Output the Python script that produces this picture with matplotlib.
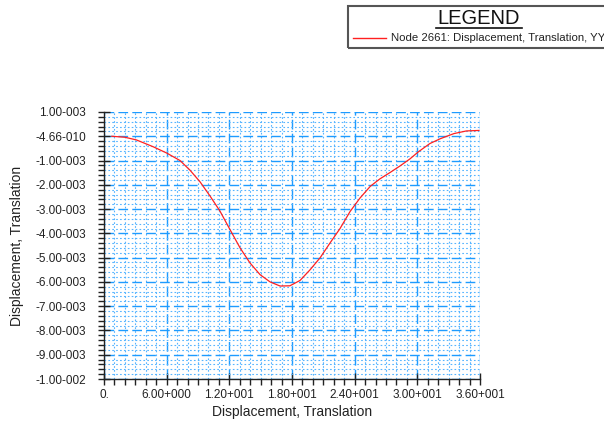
import matplotlib
matplotlib.use('Agg')
import matplotlib.pyplot as plt
from matplotlib.ticker import FixedLocator, MultipleLocator
from matplotlib.patches import Rectangle
from matplotlib.lines import Line2D
import numpy as np

plt.rcParams['font.family'] = ['Liberation Sans', 'DejaVu Sans']

# curve (x in displacement units, y in 1e-3)
time = [0.75, 2.0, 3.1, 4.7, 6.0, 7.28, 8.24, 9.2, 10.15, 11.1, 12.07,
        13.03, 13.98, 14.94, 15.9, 16.86, 17.8, 18.77, 19.73, 20.7, 21.65,
        22.6, 23.56, 24.5, 25.5, 26.4, 27.4, 28.35, 29.3, 30.1, 31.2, 32.2,
        33.5, 34.7, 35.9]
disp_e3 = [0.0, -0.04, -0.15, -0.43, -0.69, -1.0, -1.4, -1.88, -2.46, -3.08,
           -3.85, -4.6, -5.22, -5.7, -6.0, -6.17, -6.16, -5.94, -5.5, -5.0,
           -4.39, -3.8, -3.1, -2.55, -2.06, -1.76, -1.49, -1.22, -0.93,
           -0.64, -0.3, -0.1, 0.11, 0.22, 0.24]

xticks = [0, 6, 12, 18, 24, 30, 36]
xtick_labels = ['0.', '6.00+000', '1.20+001', '1.80+001', '2.40+001',
                '3.00+001', '3.60+001']
yticks = [1e-3, 0.0, -1e-3, -2e-3, -3e-3, -4e-3, -5e-3, -6e-3, -7e-3,
          -8e-3, -9e-3, -1e-2]
ytick_labels = ['1.00-003', '-4.66-010', '-1.00-003', '-2.00-003',
                '-3.00-003', '-4.00-003', '-5.00-003', '-6.00-003',
                '-7.00-003', '-8.00-003', '-9.00-003', '-1.00-002']
legend_title = 'LEGEND'
series_name = 'Node 2661: Displacement, Translation, YY'
axis_name = 'Displacement, Translation'

grid_col = '#1e9bff'
minor_col = '#55b4ff'

fig = plt.figure(figsize=(6.04, 4.28), dpi=100)
ax = fig.add_axes([104/604, 1 - 379/428, 376/604, (379 - 112)/428])

y = np.array(disp_e3) * 1e-3
ax.plot(time, y, color='#ff2020', lw=0.9, zorder=5)

ax.set_xlim(0, 36)
ax.set_ylim(-1e-2, 1e-3)
ax.xaxis.set_major_locator(FixedLocator(xticks))
ax.set_xticklabels(xtick_labels)
ax.xaxis.set_minor_locator(MultipleLocator(1.0))
ax.yaxis.set_major_locator(FixedLocator(yticks))
ax.set_yticklabels(ytick_labels)
ax.yaxis.set_minor_locator(MultipleLocator(2e-4))

ax.grid(which='major', color=grid_col, ls=(0, (7, 3)), lw=1.0)
ax.grid(which='minor', color=minor_col, ls=(0, (1.5, 2)), lw=0.8)
ax.set_axisbelow(True)

for s in ['top', 'right']:
    ax.spines[s].set_visible(False)
for s in ['left', 'bottom']:
    ax.spines[s].set_linewidth(1.0)
    ax.spines[s].set_color('#222222')

ax.tick_params(which='major', direction='inout', length=8, width=1,
               labelsize=8.5, colors='#222222')
ax.tick_params(axis='y', which='major', pad=9)
ax.tick_params(axis='x', which='major', pad=3)
ax.tick_params(which='minor', direction='out', length=4, width=1,
               colors='#222222')

ax.set_xlabel(axis_name, fontsize=10, color='#222222', labelpad=3)
ax.set_ylabel(axis_name, fontsize=10, color='#222222', labelpad=8)

# legend box in the top right corner
fig.patches.append(Rectangle((348/604, 1 - 48/428), 300/604, 42/428,
                             transform=fig.transFigure, fill=False,
                             edgecolor='#555555', lw=1.5))
fig.text(479/604, 1 - 19/428, legend_title, fontsize=14.5, ha='center',
         va='center', color='#111111')
fig.lines.append(Line2D([436/604, 522/604], [1 - 28/428, 1 - 28/428],
                        transform=fig.transFigure, color='#111111', lw=1.2))
fig.lines.append(Line2D([353/604, 386/604], [1 - 38/428, 1 - 38/428],
                        transform=fig.transFigure, color='#ff2020', lw=1))
fig.text(391/604, 1 - 38/428, series_name, fontsize=8.2, ha='left',
         va='center', color='#222222')

fig.savefig('out.png', dpi=100)
